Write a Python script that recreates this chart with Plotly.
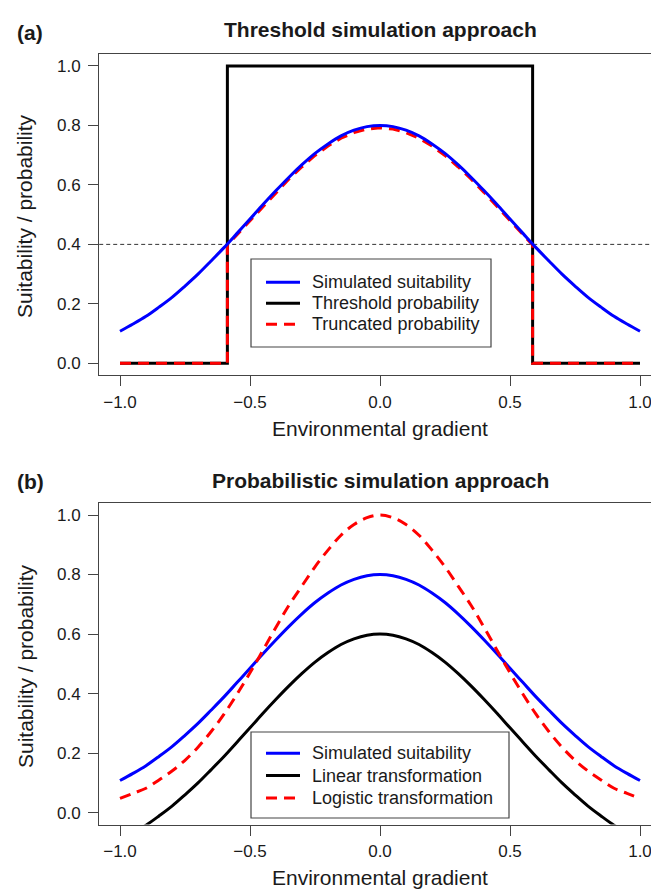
import plotly.graph_objects as go

# The page has an 8px body margin, so the figure is sized to fit the window
OFF = 8
WIN_W, WIN_H = 659, 895
W, H = WIN_W - OFF, WIN_H - OFF
FONT = "Liberation Sans, Arial, sans-serif"

# ---------------- data ----------------
x_grid = [-1.00, -0.95, -0.90, -0.85, -0.80, -0.75, -0.70, -0.65, -0.60, -0.55,
          -0.50, -0.45, -0.40, -0.35, -0.30, -0.25, -0.20, -0.15, -0.10, -0.05,
          0.00, 0.05, 0.10, 0.15, 0.20, 0.25, 0.30, 0.35, 0.40, 0.45,
          0.50, 0.55, 0.60, 0.65, 0.70, 0.75, 0.80, 0.85, 0.90, 0.95, 1.00]

simulated_suitability = [0.108, 0.132, 0.158, 0.189, 0.222, 0.260, 0.300, 0.344, 0.389, 0.437,
                         0.485, 0.534, 0.581, 0.626, 0.668, 0.706, 0.738, 0.765, 0.784, 0.796,
                         0.800, 0.796, 0.784, 0.765, 0.738, 0.706, 0.668, 0.626, 0.581, 0.534,
                         0.485, 0.437, 0.389, 0.344, 0.300, 0.260, 0.222, 0.189, 0.158, 0.132, 0.108]

linear_transformation = [-0.092, -0.068, -0.042, -0.011, 0.022, 0.060, 0.100, 0.144, 0.189, 0.237,
                         0.285, 0.334, 0.381, 0.426, 0.468, 0.506, 0.538, 0.565, 0.584, 0.596,
                         0.600, 0.596, 0.584, 0.565, 0.538, 0.506, 0.468, 0.426, 0.381, 0.334,
                         0.285, 0.237, 0.189, 0.144, 0.100, 0.060, 0.022, -0.011, -0.042, -0.068, -0.092]

logistic_transformation = [0.048, 0.065, 0.082, 0.110, 0.140, 0.176, 0.220, 0.272, 0.331, 0.398,
                           0.470, 0.546, 0.623, 0.697, 0.762, 0.826, 0.882, 0.932, 0.968, 0.991,
                           1.000, 0.991, 0.968, 0.932, 0.882, 0.826, 0.762, 0.697, 0.623, 0.546,
                           0.470, 0.398, 0.331, 0.272, 0.220, 0.176, 0.140, 0.110, 0.082, 0.065, 0.048]

threshold_value = 0.4
threshold_x = [-1.0, -0.587, -0.587, 0.587, 0.587, 1.0]
threshold_prob = [0, 0, 1, 1, 0, 0]

truncated_x = [-1.0, -0.587, -0.587, -0.55, -0.50, -0.45, -0.40, -0.35, -0.30, -0.25, -0.20,
               -0.15, -0.10, -0.05, 0.00, 0.05, 0.10, 0.15, 0.20, 0.25, 0.30, 0.35, 0.40,
               0.45, 0.50, 0.55, 0.587, 0.587, 1.0]
truncated_prob = [0, 0, 0.398, 0.433, 0.480, 0.529, 0.575, 0.620, 0.661, 0.699, 0.731,
                  0.757, 0.776, 0.788, 0.792, 0.788, 0.776, 0.757, 0.731, 0.699, 0.661, 0.620, 0.575,
                  0.529, 0.480, 0.433, 0.398, 0, 0]

x_ticks = [-1.0, -0.5, 0.0, 0.5, 1.0]
y_ticks = [0.0, 0.2, 0.4, 0.6, 0.8, 1.0]

legend_a_labels = ["Simulated suitability", "Threshold probability", "Truncated probability"]
legend_b_labels = ["Simulated suitability", "Linear transformation", "Logistic transformation"]

# ---------------- geometry helpers (window pixels -> paper) ----------------
def px_x(p):
    return (p - OFF) / W

def px_y(p):
    return 1 - (p - OFF) / H

BLUE = "#0000FF"
RED = "#FF0000"
BLACK = "#000000"
AXC = "#444444"
TXT = "#1a1a1a"
DASH = "11px,7px"

fig = go.Figure()

# Panel (a): threshold approach
fig.add_trace(go.Scatter(x=threshold_x, y=threshold_prob, mode="lines",
                         line=dict(color=BLACK, width=3), name=legend_a_labels[1],
                         xaxis="x", yaxis="y"))
fig.add_trace(go.Scatter(x=truncated_x, y=truncated_prob, mode="lines",
                         line=dict(color=RED, width=3, dash=DASH), name=legend_a_labels[2],
                         xaxis="x", yaxis="y"))
fig.add_trace(go.Scatter(x=x_grid, y=simulated_suitability, mode="lines",
                         line=dict(color=BLUE, width=3, shape="spline"), name=legend_a_labels[0],
                         xaxis="x", yaxis="y"))

# Panel (b): probabilistic approach
fig.add_trace(go.Scatter(x=x_grid, y=simulated_suitability, mode="lines",
                         line=dict(color=BLUE, width=3, shape="spline"), name=legend_b_labels[0],
                         xaxis="x2", yaxis="y2"))
fig.add_trace(go.Scatter(x=x_grid, y=linear_transformation, mode="lines",
                         line=dict(color=BLACK, width=3, shape="spline"), name=legend_b_labels[1],
                         xaxis="x2", yaxis="y2"))
fig.add_trace(go.Scatter(x=x_grid, y=logistic_transformation, mode="lines",
                         line=dict(color=RED, width=3, dash=DASH, shape="spline"),
                         name=legend_b_labels[2], xaxis="x2", yaxis="y2"))

x_left_px = 99.2
x_unit_px = 260.0
x_range = [-1.08, -1.08 + (WIN_W - x_left_px) / x_unit_px]

xaxis_common = dict(
    range=x_range, tickvals=x_ticks, tickformat=".1f", ticks="outside", ticklen=10,
    tickwidth=1.2, tickcolor=AXC, showline=True, linecolor=AXC, linewidth=1.2,
    mirror=True, showgrid=False, zeroline=False, fixedrange=True,
    tickfont=dict(family=FONT, size=17, color=TXT), automargin=False,
    ticklabelstandoff=1,
)
yaxis_common = dict(
    range=[-0.04, 1.04], tickvals=y_ticks, tickformat=".1f", ticks="outside", ticklen=10,
    tickwidth=1.2, tickcolor=AXC, showline=True, linecolor=AXC, linewidth=1.2,
    mirror=False, showgrid=False, zeroline=False, fixedrange=True,
    tickfont=dict(family=FONT, size=17, color=TXT), automargin=False,
    ticklabelstandoff=4,
)

a_top, a_bot = 54.1, 375.2
b_top, b_bot = 503.1, 824.6

fig.update_layout(
    width=W, height=H,
    margin=dict(l=0, r=0, t=0, b=0),
    paper_bgcolor="white", plot_bgcolor="white",
    font=dict(family=FONT, color=TXT),
    xaxis=dict(domain=[px_x(x_left_px), 1], anchor="y", **xaxis_common),
    yaxis=dict(domain=[px_y(a_bot), px_y(a_top)], anchor="x", **yaxis_common),
    xaxis2=dict(domain=[px_x(x_left_px), 1], anchor="y2", **xaxis_common),
    yaxis2=dict(domain=[px_y(b_bot), px_y(b_top)], anchor="x2", **yaxis_common),
    showlegend=False,
)

# dotted threshold line in panel (a)
fig.add_shape(type="line", xref="x domain", yref="y", x0=0, x1=1,
              y0=threshold_value, y1=threshold_value,
              line=dict(color="#333333", width=1, dash="4px,3px"), layer="below")


def ann(text, x, y, size, bold=False, angle=0, xanchor="center"):
    fig.add_annotation(text=f"<b>{text}</b>" if bold else text,
                       xref="paper", yref="paper", x=px_x(x), y=px_y(y),
                       xanchor=xanchor, yanchor="middle", showarrow=False,
                       textangle=angle, font=dict(family=FONT, size=size, color=TXT))


def legend_box(left, right, top, bottom, rows, labels, styles):
    fig.add_shape(type="rect", xref="paper", yref="paper",
                  x0=px_x(left), x1=px_x(right), y0=px_y(bottom), y1=px_y(top),
                  line=dict(color=AXC, width=1.2), fillcolor="white", layer="above")
    for ry, lab, (col, dash) in zip(rows, labels, styles):
        fig.add_shape(type="line", xref="paper", yref="paper",
                      x0=px_x(left + 15), x1=px_x(left + 49), y0=px_y(ry), y1=px_y(ry),
                      line=dict(color=col, width=3, dash=dash), layer="above")
        ann(lab, left + 59, ry, 18, xanchor="left")


legend_box(251, 491, 259, 347, [282.3, 303.3, 324.3], legend_a_labels,
           [(BLUE, "solid"), (BLACK, "solid"), (RED, DASH)])
legend_box(251, 509, 732, 818, [753.3, 775.5, 798.0], legend_b_labels,
           [(BLUE, "solid"), (BLACK, "solid"), (RED, DASH)])

ann("(a)", 30, 32, 21, bold=True)
ann("Threshold simulation approach", 380, 30, 21, bold=True)
ann("(b)", 30, 481, 21, bold=True)
ann("Probabilistic simulation approach", 380, 480, 21, bold=True)
ann("Environmental gradient", 380, 428, 21)
ann("Environmental gradient", 380, 877, 21)
ann("Suitability / probability", 25, 216, 21, angle=-90)
ann("Suitability / probability", 25, 666, 21, angle=-90)

fig.write_html("out.html")
